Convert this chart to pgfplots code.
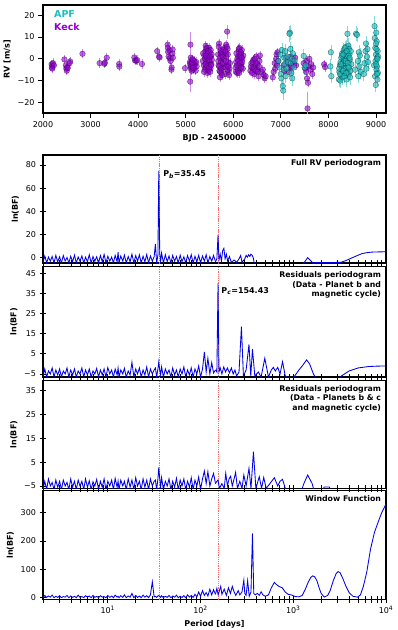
\documentclass[border=0pt]{standalone}
\usepackage{fontspec}
\setmainfont{DejaVu Sans}
\usepackage{pgfplots}
\usepackage{pgfplotstable}
\pgfplotsset{compat=1.18}

\definecolor{keck}{RGB}{148,0,211}
\definecolor{apf}{RGB}{25,190,190}
\definecolor{pline}{RGB}{0,0,235}
\definecolor{vline}{RGB}{255,105,105}

% periodogram noise, P < 145 d: P, full, resid1, resid2, window
\pgfplotstableread{
P a b c d
2.00 -4.5 -6.5 -6.5 0
2.09 1.5 -2.5 -3 8
2.19 -4.5 -6.5 -6.5 1
2.29 0.5 -3.5 -2 6
2.40 -3 -5 -5 2
2.51 1.0 -2 -3.5 9
2.63 -4.5 -6.5 -6.5 0
2.75 2.0 -3 -2.5 5
2.88 -3.5 -5.5 -5.5 1
3.02 0.8 -2.5 -3 7
3.16 -4.5 -6.5 -6.5 0
3.31 1.8 -3.5 -2.5 4
3.47 -3 -5 -5 2
3.63 0.2 -2 -3.5 8
3.80 -4.5 -6.5 -6.5 0
3.98 1.2 -3 -2 6
4.17 -3.5 -5.5 -5.5 1
4.37 2.2 -2.5 -3 5
4.57 -4.5 -6.5 -6.5 0
4.79 0.6 -3.5 -2.5 9
5.01 -3 -5 -5 1
5.25 1.5 -2 -3 4
5.50 -4.5 -6.5 -6.5 0
5.75 0.4 -3 -2 7
6.03 -3.5 -5.5 -5.5 2
6.31 2.5 -2.5 -2.8 6
6.61 -4.5 -6.5 -6.5 0
6.92 1.0 -3.5 -3.2 8
7.24 -3 -5 -5 1
7.59 0.8 -2.2 -2.2 5
7.94 -4.5 -6.5 -6.5 0
8.32 1.8 -3 -3 7
8.71 -3.5 -5.5 -5.5 2
9.12 2.8 -2.5 -2 4
9.55 -4.5 -6.5 -6.5 0
10.0 1.2 -1.8 -3 8
10.5 -3 -5 -5 1
11.0 0.5 -3 -2.5 6
11.5 -4.5 -6.5 -6.5 0
12.0 2.0 -2.5 -1.8 9
12.6 -3.5 -5.5 -5.5 2
12.9 4.7 -2 -3 5
13.2 -4.5 -6.5 -6.5 0
13.8 1.5 -3 -2.5 7
14.5 -3 -5 -5 1
15.1 2.2 -2.2 -3 10
15.8 -4.5 -6.5 -6.5 0
16.6 1.0 -3.5 -2 6
17.4 -3.5 -5.5 -5.5 2
18.2 3.0 0.8 -2.5 15
19.1 -4.5 -6.5 -6.5 0
20.0 1.8 -2.5 -1.5 8
20.9 -3 -5 -5 1
21.9 2.5 -2 -3 6
22.9 -4.5 -6.5 -6.5 0
24.0 1.2 -3 -2 9
25.1 -3.5 -5.5 -5.5 2
26.3 2.8 -1.5 -2.5 7
27.5 -4.5 -6.5 -6.5 0
28.8 1.5 -2.5 -2 10
30.2 -3 -5 -5 56
31.6 1.0 -3 -3 3
32.6 11.8 -2 -2.5 5
33.6 -4.5 -6.5 -6.5 1
34.7 2.0 -2.5 -2 6
35.45 75 1 2.8 8
36.3 3.5 -3 -2 4
37.1 -3 -5.5 -5.5 1
38.0 4.0 -1.5 -1.5 7
39.8 -4.5 -6.5 -6.5 0
41.7 2.5 -2.5 -3 5
43.7 -3.5 -5 -5 1
45.7 1.5 -3 -2 8
47.9 -4.5 -6.5 -6.5 0
50.1 2.0 -2 -3 6
52.5 -3 -5.5 -5.5 2
55.0 1.0 -3 -1.8 9
57.5 -4.5 -6.5 -6.5 0
60.3 2.2 -2.5 -2.5 5
63.1 -3.5 -5 -5 1
66.1 0.8 -1.5 -2 7
69.2 -4.5 -6.5 -6.5 0
72.4 1.8 -3 -3 10
75.9 -3 -5.5 -5.5 2
79.4 2.5 -2 -1.5 8
83.2 -4.5 -6.5 -6.5 1
87.1 1.2 -2.5 -2.5 12
91.2 -3.5 -5 -5 3
95.5 2.0 -1 -1.2 20
100 -4.5 -6.5 -6.5 5
105 1.5 -2.5 -2 25
110 -3 6 1.3 8
115 2.5 -4 -4 18
120 -4.5 2.8 1.0 6
126 1.0 -5 -5 30
132 -3 0.6 -2 10
138 2.0 -4.5 0.3 28
145 -3.5 -3 -4 12
}\noise

\pgfplotsset{
  base/.style={
    scale only axis, width=343pt,
    axis line style={line width=1.1pt},
    tick style={black, line width=0.8pt},
    major tick length=7pt, minor tick length=7pt,
    tick label style={font=\fontsize{8}{9.6}\selectfont},
    label style={font=\bfseries\fontsize{8}{9.6}\selectfont},
    /pgf/number format/assume math mode=true,
    /pgf/number format/1000 sep={},
    xtick pos=lower, ytick pos=left,
  },
  pgram/.style={base,
    xmin=2, xmax=10000,
    tick align=center,
    xtick={10,100,1000,10000},
    minor xtick={2,3,4,5,6,7,8,9,20,30,40,50,60,70,80,90,200,300,400,500,600,700,800,900,2000,3000,4000,5000,6000,7000,8000,9000},
    xticklabels={},
    ylabel={ln(BF)},
  },
  curve/.style={color=pline, line width=0.85pt},
  mline/.style={color=vline, dash pattern=on 1.3pt off 0.9pt, line width=0.55pt},
  kmark/.style={only marks, mark=*, mark size=2.8pt,
    mark options={fill=keck, fill opacity=0.6, draw=keck!35!black, draw opacity=0.65, line width=0.4pt}},
  amark/.style={only marks, mark=*, mark size=2.8pt,
    mark options={fill=apf, fill opacity=0.6, draw=apf!30!black, draw opacity=0.65, line width=0.4pt}},
}
\tikzset{
  ttl/.style={anchor=north east, align=right, inner sep=0pt,
    font=\bfseries\fontsize{7.8}{9.4}\selectfont},
  ann/.style={anchor=west, inner sep=1pt, font=\bfseries\fontsize{8}{9.6}\selectfont},
  leg/.style={anchor=west, inner sep=0pt, font=\bfseries\fontsize{9.5}{11}\selectfont},
}

\begin{document}
\begin{tikzpicture}
\useasboundingbox (0,0) rectangle (398pt,-630pt);

% ---- RV time series
\begin{axis}[base, at={(43pt,-5pt)}, anchor=north west, height=108pt,
  tick align=outside, major tick length=5pt,
  xmin=2000, xmax=9210, ymin=-24.9, ymax=24.7,
  xtick={2000,3000,...,9000},
  ytick={-20,-10,0,10,20}, yticklabels={−20,−10,0,10,20},
  xlabel={BJD - 2450000}, ylabel={RV [m/s]}]
\addplot[kmark,
  error bars/.cd, y dir=both, y fixed=1.4,
  error bar style={keck!45, line width=0.6pt},
  error mark options={keck!45, line width=0.6pt, mark size=1.6pt}]
coordinates {
(2180,-2.5) (2185,-4.0) (2200,-3.2) (2210,-2.0) (2230,-3.0) (2195,-4.5)
(2450,-0.3) (2480,-3.0) (2490,-4.5) (2500,-5.5) (2510,-3.8) (2520,-4.2) (2570,-1.2) (2560,-2.0)
(2830,2.3)
(3190,-2.0) (3290,-2.3) (3300,-1.8) (3340,0.5)
(3600,-2.4) (3605,-3.6)
(3920,0.6) (3935,-0.8) (3960,-0.9) (3980,-0.6) (4080,-2.4)
(4400,3.5) (4440,1.0) (4450,0.6)
(4620,6.5) (4625,5.0) (4630,3.2) (4640,1.0) (4660,3.8) (4665,0.2) (4680,-1.0) (4700,-5.0) (4705,-4.0) (4720,2.4) (4725,4.3) (4730,0.5)
(4985,-4.3)
(5090,-1.5) (5100,-3.0) (5110,-4.5) (5120,-2.0) (5130,-0.5) (5140,-3.5) (5150,-5.0) (5160,-2.5) (5170,-1.0) (5180,-4.0) (5190,-3.0) (5200,-2.0) (5210,-5.5) (5220,-1.5) (5230,-3.5)
(5095,-2.2) (5105,0.5) (5115,-3.8) (5125,-5.5) (5135,-1.8) (5145,-0.2) (5155,-4.2)
(5360,-1.0) (5380,-3.0) (5390,1.5) (5400,-5.0) (5410,3.5) (5420,6.0) (5430,-2.0) (5440,4.5) (5450,0.5) (5460,-6.5) (5470,2.5) (5480,-3.5) (5490,5.0) (5500,-1.5) (5510,3.0) (5520,-4.5) (5530,1.0) (5540,-2.5) (5550,-0.5) (5420,-4.0) (5445,-1.0) (5475,-5.5)
(5365,2.5) (5385,-6.0) (5405,0.0) (5415,-2.5) (5425,1.5) (5435,5.0) (5455,-3.5) (5465,3.5) (5485,-0.5) (5495,-4.0) (5505,1.0) (5515,-6.0) (5525,4.0) (5535,-3.0) (5545,2.0)
(5680,2.0) (5690,-3.0) (5700,7.0) (5710,-5.5) (5720,-8.5) (5730,4.0) (5740,-1.0) (5750,-6.5) (5760,1.5) (5770,-2.5) (5780,-4.0) (5800,0.0) (5820,5.0) (5830,-7.0) (5840,2.5) (5850,6.5) (5860,-3.0) (5880,4.5) (5890,-1.5) (5900,-6.0) (5910,-7.5) (5920,-4.5) (5930,-2.0)
(5685,-1.0) (5695,5.5) (5705,-3.5) (5715,0.5) (5725,-6.0) (5735,2.5) (5745,-4.5) (5755,3.0) (5765,-7.5) (5775,1.0) (5785,-2.0) (5795,4.0) (5825,-4.0) (5835,3.5) (5845,-1.0) (5855,1.0) (5865,5.5) (5875,-5.0) (5885,2.0) (5895,-3.5)
(6050,-4.0) (6060,-1.5) (6080,-6.5) (6100,1.0) (6110,3.5) (6120,-3.0) (6130,5.0) (6140,-5.0) (6150,-0.5) (6160,2.0) (6170,-2.5) (6180,4.0) (6190,0.0) (6200,-4.5) (6210,1.5)
(6055,-6.0) (6065,2.5) (6075,-3.0) (6085,0.0) (6095,-5.5) (6105,-1.0) (6115,4.5) (6125,-6.5) (6135,1.5) (6145,-2.0) (6155,3.0) (6165,-4.0) (6175,0.5) (6185,-1.5)
(6360,-5.5) (6380,-2.0) (6400,-4.0) (6420,-0.5) (6440,-7.0) (6460,-3.0) (6480,1.0) (6500,-5.0) (6510,-2.5) (6530,-8.0) (6550,-1.0) (6560,1.5)
(6370,-3.5) (6390,-6.5) (6410,-1.5) (6430,-4.5) (6450,0.0) (6470,-5.5) (6490,-2.0) (6520,-6.0) (6540,-3.5)
(6600,-6.0) (6620,-5.0) (6640,-7.5) (6660,-9.0) (6680,-8.0)
(6830,-8.5) (6850,-6.0) (6870,-2.0) (6880,-4.5) (6900,0.0) (6910,2.0) (6920,-3.0) (6930,3.0) (6940,-1.0)
(7060,-3.0) (7080,-5.5) (7100,0.5) (7150,-2.0) (7170,-6.0) (7200,-4.0) (7210,1.0) (7230,-3.5) (7250,-1.0) (7280,-2.5) (7300,0.5) (7320,-3.0)
(7480,-2.0) (7510,-4.5) (7530,-6.0) (7540,-1.0) (7550,-9.0) (7570,-11.0) (7580,-3.5) (7600,0.0) (7620,-5.0) (7640,-2.5) (7660,-7.0) (7680,-4.0)
(7910,-2.5) (7930,-3.8)
};
\addplot[kmark,
  error bars/.cd, y dir=both, y explicit,
  error bar style={keck!45, line width=0.6pt},
  error mark options={keck!45, line width=0.6pt, mark size=1.6pt}]
coordinates {(5100,6.5) +- (0,5) (5095,-10.5) +- (0,4) (5870,12.5) +- (0,2.5) (7560,-22.8) +- (0,7)};
\addplot[amark,
  error bars/.cd, y dir=both, y fixed=2.6,
  error bar style={apf!55, line width=0.6pt},
  error mark options={apf!55, line width=0.6pt, mark size=1.6pt}]
coordinates {
(6950,-1.0) (6970,-4.0) (6990,2.0) (7000,-7.0) (7010,-9.0) (7020,4.0) (7040,-12.5) (7060,-5.0) (7070,0.5) (7080,-2.5) (7090,3.5) (7100,-8.0) (7120,-4.5) (7140,1.0) (7150,-1.5)
(7190,12.0) (7200,4.5) (7210,-2.0) (7220,-6.5) (7230,0.0) (7240,-9.0) (7250,2.5) (7270,-4.0) (7290,-1.0)
(7480,1.3) (7500,-4.0) (7520,-3.0)
(8040,-3.5) (8050,3.0) (8060,-8.0)
(8220,-9.5) (8230,-6.0) (8240,-3.0) (8250,-10.0) (8255,-1.5) (8260,-7.5) (8270,0.5) (8275,-3.5) (8280,-5.0) (8290,2.5) (8300,-8.5) (8310,-2.0) (8320,4.0) (8325,0.0) (8330,-6.5) (8340,-1.0) (8350,3.0) (8355,-2.0) (8360,-4.5) (8370,5.5) (8380,-9.5) (8390,1.0) (8395,-6.0) (8410,-3.5) (8415,1.5) (8420,6.0) (8430,-7.0) (8435,4.5) (8440,2.0) (8450,-0.5) (8460,-5.5) (8470,3.5) (8480,-2.5)
(8225,-4.5) (8245,-7.0) (8265,-2.5) (8285,1.5) (8305,-5.5) (8315,2.0) (8335,-8.0) (8345,5.0) (8365,-1.0) (8375,-6.5) (8385,3.5) (8405,-2.0) (8425,-4.0) (8445,0.5) (8455,-8.5)
(8560,-5.0) (8580,11.5) (8600,11.0) (8620,-1.0) (8630,-8.0) (8640,3.0) (8650,-3.5) (8660,1.5) (8680,-6.0)
(8740,-7.0) (8760,-2.0) (8780,3.5) (8790,7.0) (8800,-4.5) (8810,1.0) (8820,4.5) (8830,-1.5)
(8960,-3.0) (8975,9.5) (8980,-8.0) (8985,5.0) (8990,-1.0) (8995,-12.0) (9000,2.0) (9005,12.0) (9010,-5.0) (9015,8.0) (9020,-3.5) (9025,0.5) (9030,-9.5) (9035,3.5) (9040,-6.5) (9045,1.0)
(9000,-2.5) (9010,4.5) (9020,-7.0) (9030,0.0) (9002,7.0)
};
\addplot[amark,
  error bars/.cd, y dir=both, y explicit,
  error bar style={apf!55, line width=0.6pt},
  error mark options={apf!55, line width=0.6pt, mark size=1.6pt}]
coordinates {(7050,-14.6) +- (0,3.5) (7180,11.5) +- (0,3) (8400,11.5) +- (0,3) (8970,15.0) +- (0,4)};
\node[leg, text=apf] at (rel axis cs:0.032,0.917) {APF};
\node[leg, text=keck] at (rel axis cs:0.032,0.80) {Keck};
\end{axis}

% ---- full RV periodogram
\begin{semilogxaxis}[pgram, at={(43pt,-155pt)}, anchor=north west, height=108pt,
  ymin=-4.6, ymax=88.6, ytick={0,20,40,60,80}]
\addplot[mline] coordinates {(35.45,-100) (35.45,1000)};
\addplot[mline] coordinates {(154.43,-100) (154.43,1000)};
\addplot[curve] table[x=P, y=a] {\noise};
\addplot[curve] coordinates {
(145,-3.5) (150,-1) (154.43,19.6) (158,-2) (163,3) (168,-3) (173,6) (178.6,8.1) (184,-1) (190,3) (196,-3) (205,1) (215,-4) (230,-2) (245,-4) (260,-1) (271,2) (280,-4) (300,-1) (310,2) (320,0.5) (330,2.5) (340,1) (350,3) (360,2) (370,0) (380,-5) (390,-8) (1200,-8) (1300,-4.6) (1430,0) (1650,-5) (1750,-4.2) (2500,-4.2) (3270,-4.0) (3700,-2.5) (4200,-0.5) (4800,1.5) (5500,3.5) (6200,4.3) (7000,4.8) (8500,5.0) (10000,5.1)
};
\node[ttl] at (rel axis cs:0.986,0.955) {Full RV periodogram};
\node[ann] at (axis cs:38.5,72) {P\textsubscript{\textit{b}}=35.45};
\end{semilogxaxis}

% ---- residuals (planet b + cycle removed)
\begin{semilogxaxis}[pgram, at={(43pt,-266.5pt)}, anchor=north west, height=110.5pt,
  ymin=-6.5, ymax=48.4, ytick={-5,5,15,25,35,45}, yticklabels={−5,5,15,25,35,45}]
\addplot[mline] coordinates {(35.45,-100) (35.45,1000)};
\addplot[mline] coordinates {(154.43,-100) (154.43,1000)};
\addplot[curve] table[x=P, y=b] {\noise};
\addplot[curve] coordinates {
(145,-3) (150,-4) (154.43,40) (158,-4) (163,-2) (170,-5) (178,-1.5) (186,-4) (195,-2) (205,-4.5) (215,-2) (225,-5) (235,-3) (245,-6) (260,-4) (276,18.5) (290,-6) (310,-3) (333,9.7) (348,-6) (363,7.3) (385,-6) (420,-4) (450,-6.5) (493,2.8) (540,-6.5) (580,-3) (610,-1.7) (640,-3.5) (680,-1.7) (720,-5) (766,1.1) (820,-6) (900,-7) (1000,-7) (1150,-3) (1250,-1) (1393,2.0) (1500,0) (1650,-5) (1800,-8) (3000,-8) (3300,-6) (4000,-3.5) (5000,-2) (6500,-1.3) (8000,-1.1) (10000,-1)
};
\node[ttl] at (rel axis cs:0.986,0.955) {Residuals periodogram\\(Data - Planet b and\\magnetic cycle)};
\node[ann] at (axis cs:163,36.4) {P\textsubscript{\textit{c}}=154.43};
\end{semilogxaxis}

% ---- residuals (planets b, c + cycle removed)
\begin{semilogxaxis}[pgram, at={(43pt,-380.5pt)}, anchor=north west, height=108pt,
  ymin=-6.05, ymax=39.3, ytick={-5,5,15,25,35}, yticklabels={−5,5,15,25,35}]
\addplot[mline] coordinates {(35.45,-100) (35.45,1000)};
\addplot[mline] coordinates {(154.43,-100) (154.43,1000)};
\addplot[curve] table[x=P, y=c] {\noise};
\addplot[curve] coordinates {
(145,-4) (150,-3) (154.43,-2.5) (160,-6) (170,-4) (180,-6) (187,0.3) (195,-5) (203,-2) (211,-0.9) (220,-5) (230,-2) (239,0.7) (250,-6) (265,-3) (280,-6) (293,-0.4) (310,-5) (333,2.4) (350,-6) (372,9.4) (395,-6) (430,-1.1) (455,-6) (480,-1.4) (510,-6) (560,-4) (625,-1.5) (680,-5) (720,-3) (766,-2.2) (820,-6) (900,-8) (1200,-8) (1300,-4) (1430,-0.4) (1600,-4) (1700,-8) (2050,-8) (2150,-5.4) (2450,-5.4) (2550,-8) (10000,-8)
};
\node[ttl] at (rel axis cs:0.986,0.955) {Residuals periodogram\\(Data - Planets b \& c\\and magnetic cycle)};
\end{semilogxaxis}

% ---- window function
\begin{semilogxaxis}[pgram, at={(43pt,-490.5pt)}, anchor=north west, height=109pt,
  ymin=-6.4, ymax=378, ytick={0,100,200,300},
  xticklabels={10\textsuperscript{1},10\textsuperscript{2},10\textsuperscript{3},10\textsuperscript{4}},
  xlabel={Period [days]}]
\addplot[mline] coordinates {(35.45,-100) (35.45,1000)};
\addplot[mline] coordinates {(154.43,-100) (154.43,1000)};
\addplot[curve] table[x=P, y=d] {\noise};
\addplot[curve] coordinates {
(145,12) (150,33) (155,10) (160,25) (165,40) (170,12) (180,30) (190,8) (200,35) (210,15) (220,40) (230,21) (240,8) (255,25) (265,10) (280,20) (293,62) (300,15) (310,8) (322,60) (335,5) (350,20) (363,227) (375,15) (390,10) (410,15) (430,8) (450,21) (470,10) (500,5) (540,10) (580,35) (625,54) (650,48) (700,40) (760,35) (820,20) (880,12) (950,10) (1050,4) (1150,3) (1250,8) (1350,30) (1450,55) (1550,72) (1620,77) (1700,74) (1800,60) (1900,35) (2000,15) (2160,2) (2350,8) (2500,25) (2700,60) (2900,85) (3050,92) (3200,88) (3400,70) (3700,40) (4000,18) (4400,5) (4930,2) (5300,10) (5700,40) (6200,90) (6800,170) (7500,230) (8300,270) (9000,300) (10000,330)
};
\node[ttl] at (rel axis cs:0.986,0.955) {Window Function};
\end{semilogxaxis}
\end{tikzpicture}
\end{document}
